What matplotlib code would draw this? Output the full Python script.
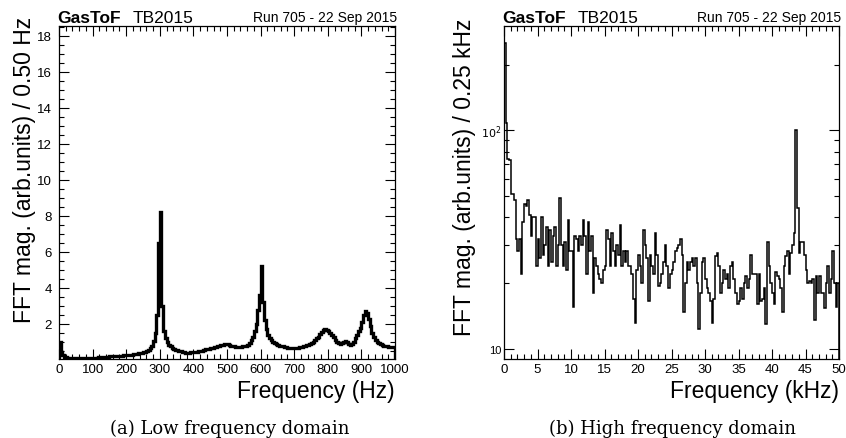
import numpy as np
import matplotlib.pyplot as plt
from matplotlib.ticker import MultipleLocator, FixedLocator, NullFormatter

# ---------------------------------------------------------------
#  DATA
# ---------------------------------------------------------------
# low frequency spectrum, 0 - 1000 Hz, shown here in 5 Hz steps
lf_edges_hz = np.arange(0, 1001, 5)
lf_mag = [
    # 0 - 100 Hz
    1.0, 0.45, 0.25, 0.18, 0.14, 0.12, 0.11, 0.10, 0.10, 0.09,
    0.09, 0.09, 0.09, 0.10, 0.10, 0.10, 0.10, 0.11, 0.11, 0.12,
    # 100 - 200 Hz
    0.12, 0.13, 0.13, 0.14, 0.15, 0.15, 0.16, 0.17, 0.17, 0.18,
    0.19, 0.20, 0.20, 0.21, 0.22, 0.23, 0.23, 0.24, 0.25, 0.26,
    # 200 - 300 Hz
    0.27, 0.28, 0.29, 0.30, 0.31, 0.33, 0.34, 0.36, 0.38, 0.40,
    0.42, 0.45, 0.50, 0.56, 0.65, 0.80, 1.05, 1.5, 2.5, 6.5,
    # 300 - 400 Hz
    8.2, 3.0, 1.6, 1.2, 1.0, 0.85, 0.75, 0.65, 0.60, 0.55,
    0.55, 0.50, 0.48, 0.45, 0.42, 0.40, 0.40, 0.40, 0.42, 0.42,
    # 400 - 500 Hz
    0.44, 0.45, 0.46, 0.48, 0.50, 0.52, 0.55, 0.58, 0.60, 0.62,
    0.65, 0.68, 0.70, 0.72, 0.75, 0.78, 0.82, 0.85, 0.88, 0.90,
    # 500 - 600 Hz
    0.88, 0.85, 0.80, 0.78, 0.75, 0.72, 0.72, 0.70, 0.72, 0.75,
    0.78, 0.80, 0.85, 0.95, 1.1, 1.3, 1.6, 2.0, 2.8, 3.6,
    # 600 - 700 Hz
    5.2, 3.2, 2.2, 1.7, 1.4, 1.2, 1.1, 1.0, 0.95, 0.90,
    0.85, 0.80, 0.78, 0.75, 0.72, 0.70, 0.68, 0.68, 0.66, 0.65,
    # 700 - 800 Hz
    0.65, 0.66, 0.68, 0.70, 0.72, 0.75, 0.78, 0.82, 0.85, 0.90,
    0.95, 1.0, 1.1, 1.2, 1.3, 1.45, 1.55, 1.65, 1.7, 1.65,
    # 800 - 900 Hz
    1.6, 1.5, 1.4, 1.25, 1.1, 1.0, 0.95, 0.90, 0.95, 1.0,
    1.05, 1.0, 0.90, 0.85, 0.90, 1.0, 1.2, 1.4, 1.6, 1.8,
    # 900 - 1000 Hz
    2.1, 2.5, 2.7, 2.6, 2.3, 1.9, 1.5, 1.3, 1.1, 1.0,
    0.95, 0.90, 0.85, 0.80, 0.80, 0.75, 0.72, 0.70, 0.70, 0.70,
]

# high frequency spectrum, 0 - 50 kHz in 0.25 kHz bins
hf_edges_khz = np.arange(0, 50.001, 0.25)
hf_mag = [
    # 0 - 5 kHz
    250, 108, 74, 73, 51, 51, 48, 32, 28, 32, 22, 38, 46, 45, 48, 41, 33, 40, 40, 24,
    # 5 - 10 kHz
    32, 26, 40, 27, 30, 36, 24, 35, 25, 33, 36, 24, 30, 49, 30, 24, 31, 23, 39, 28,
    # 10 - 15 kHz
    28, 15.5, 33, 32, 28, 33, 30, 39, 33, 22, 38, 28, 33, 18, 26, 24, 22, 21, 20, 23,
    # 15 - 20 kHz
    24, 35, 32, 24, 34, 28, 24, 30, 27, 37, 24, 28, 25, 28, 24, 24, 22, 17, 13.2, 23,
    # 20 - 25 kHz
    27, 24, 20, 35, 30, 26, 16.5, 27, 24, 22, 34, 27, 19.5, 20, 22, 25, 30, 24, 19, 22,
    # 25 - 30 kHz
    23, 25, 28, 29, 30, 32, 27, 14.7, 20, 25, 23, 25, 26, 24, 26, 20, 12.3, 18, 25, 26,
    # 30 - 35 kHz
    21, 19, 18, 16.5, 13.2, 17, 26.5, 27.5, 24, 18, 20, 23, 21, 22, 19, 24, 25, 21, 18, 16,
    # 35 - 40 kHz
    16.5, 19, 17, 20, 21.5, 19, 21, 27, 22, 22, 22, 16, 22, 16.5, 17, 19, 13, 31, 24, 20,
    # 40 - 45 kHz
    18, 16, 22.5, 21.5, 21, 19, 14.7, 24, 26.5, 28, 22, 27.5, 30, 34, 100, 44, 27.5, 31, 31, 27,
    # 45 - 50 kHz
    23, 20, 20.5, 20, 21, 13.6, 21.5, 18, 21.5, 18, 18, 15.4, 20, 24, 18, 21, 28, 20, 15.5, 20,
]

W, H = 846, 439
SANS = 'Liberation Sans'
SERIF = 'DejaVu Serif'


def fx(px):
    return px / W


def fy(py):
    return 1 - py / H


def style_axes(ax):
    ax.tick_params(which='both', direction='in', top=True, right=True,
                   labelsize=9.5, width=0.8)
    ax.tick_params(which='major', length=7)
    ax.tick_params(which='minor', length=3.5)
    for lab in ax.get_xticklabels() + ax.get_yticklabels():
        lab.set_family(SANS)
    for sp in ax.spines.values():
        sp.set_linewidth(0.9)


fig = plt.figure(figsize=(W / 100, H / 100), dpi=100)

# ---------------- left panel ----------------
ax1 = fig.add_axes([fx(59), fy(360), fx(395 - 59), (360 - 27) / H])
ax1.stairs(lf_mag, lf_edges_hz, color='black', linewidth=2.4)
ax1.set_xlim(0, 1000)
ax1.set_ylim(0.05, 18.55)
ax1.xaxis.set_major_locator(MultipleLocator(100))
ax1.xaxis.set_minor_locator(MultipleLocator(20))
ax1.yaxis.set_major_locator(FixedLocator(np.arange(2, 19, 2)))
ax1.yaxis.set_minor_locator(MultipleLocator(0.5))
style_axes(ax1)
ax1.tick_params(axis='x', pad=3)
ax1.tick_params(axis='y', pad=5)
ax1.set_xlabel('Frequency (Hz)', family=SANS, fontsize=16.5, ha='right')
ax1.xaxis.set_label_coords(1.0, -0.06)
ax1.set_ylabel('FFT mag. (arb.units) / 0.50 Hz', family=SANS, fontsize=16.5)
ax1.yaxis.set_label_coords(-0.068, 0.57)

# ---------------- right panel ----------------
ax2 = fig.add_axes([fx(504), fy(360), fx(839 - 504), (360 - 27) / H])
ax2.stairs(hf_mag, hf_edges_khz, color='black', linewidth=1.1)
ax2.set_yscale('log')
ax2.set_xlim(0, 50)
ax2.set_ylim(9.0, 300)
ax2.xaxis.set_major_locator(MultipleLocator(5))
ax2.xaxis.set_minor_locator(MultipleLocator(1))
ax2.yaxis.set_major_locator(FixedLocator([10, 100]))
ax2.yaxis.set_minor_locator(FixedLocator([20, 30, 40, 50, 60, 70, 80, 90, 200]))
ax2.yaxis.set_minor_formatter(NullFormatter())
ax2.set_yticklabels(['10', r'$10^{2}$'])
style_axes(ax2)
ax2.tick_params(axis='y', which='major', labelsize=8, pad=2)
ax2.tick_params(axis='x', pad=3)
ax2.set_xlabel('Frequency (kHz)', family=SANS, fontsize=16.5, ha='right')
ax2.xaxis.set_label_coords(1.0, -0.06)
ax2.set_ylabel('FFT mag. (arb.units) / 0.25 kHz', family=SANS, fontsize=16.5)
ax2.yaxis.set_label_coords(-0.085, 0.55)

# ---------------- headers ----------------
for left, right in [(57, 397), (502, 841)]:
    fig.text(fx(left), fy(23), 'GasToF', family=SANS, weight='bold',
             fontsize=12.5, va='baseline')
    fig.text(fx(left + 76), fy(23), 'TB2015', family=SANS,
             fontsize=12.5, va='baseline')
    fig.text(fx(right), fy(22), 'Run 705 - 22 Sep 2015', family=SANS,
             fontsize=10, va='baseline', ha='right')

# ---------------- captions ----------------
fig.text(fx(230), fy(434), '(a) Low frequency domain', family=SERIF,
         fontsize=13, ha='center', va='baseline')
fig.text(fx(672), fy(434), '(b) High frequency domain', family=SERIF,
         fontsize=13, ha='center', va='baseline')

fig.savefig('out.png', dpi=100)
